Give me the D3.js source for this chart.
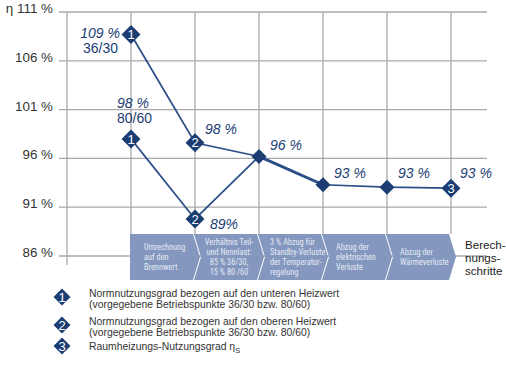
<!DOCTYPE html>
<html><head><meta charset="utf-8">
<script src="https://cdn.jsdelivr.net/npm/d3@7"></script>
<style>
html,body{margin:0;padding:0;background:#fff;}
svg{display:block;font-family:"Liberation Sans",Arial,sans-serif;}
</style></head>
<body><svg id="c" width="506" height="366"></svg>
<script>
// ---- data ----
const yTicks = [86, 91, 96, 101, 106, 111];
const yTickLabels = ["86 %", "91 %", "96 %", "101 %", "106 %", "η 111 %"];
const steps = [1, 2, 3, 4, 5, 6];
const seriesLower = [108.7, 97.6, 96.2, 93.3, 93.05, 92.95];   // unterer Heizwert → ηs
const seriesLowerMarks = ["1", "2", "", "", "", "3"];
const seriesUpperSteps = [1, 2, 3];
const seriesUpper = [98, 89.8, 96.2];                       // oberer Heizwert
const seriesUpperMarks = ["1", "2", ""];
const pointLabels = ["109 %", "98 %", "96 %", "93 %", "93 %", "93 %"];
const upperLabels = ["98 %", "89%"];
const opLabels = ["36/30", "80/60"];
const stepBoxes = [
  ["Umrechnung", "auf den", "Brennwert"],
  ["Verhältnis Teil-", "und Nennlast:", "85 % 36/30,", "15 % 80 /60"],
  ["3 % Abzug für", "Standby-Verluste", "der Temperatur-", "regelung"],
  ["Abzug der", "elektrischen", "Verluste"],
  ["Abzug der", "Wärmeverluste"]
];
const stepTitle = ["Berech-", "nungs-", "schritte"];
const legendItems = [
  {mark: "1", lines: ["Normnutzungsgrad bezogen auf den unteren Heizwert", "(vorgegebene Betriebspunkte 36/30 bzw. 80/60)"]},
  {mark: "2", lines: ["Normnutzungsgrad bezogen auf den oberen Heizwert", "(vorgegebene Betriebspunkte 36/30 bzw. 80/60)"]},
  {mark: "3", lines: ["Raumheizungs-Nutzungsgrad η"]}
];

// ---- styles ----
const navy = "#1b3d73", lineCol = "#2c4f87", grid = "#a9a9a9", boxCol = "#8397bf";
const svg = d3.select("#c");
const x = d3.scaleLinear().domain([0, 6]).range([67, 451]);
const y = d3.scaleLinear().domain([86, 111]).range([256, 12]);
const boxTop = 234, boxBot = 280;

// horizontal grid
svg.append("g").selectAll("line").data(yTicks).join("line")
  .attr("x1", 59).attr("x2", 487).attr("y1", d => y(d)).attr("y2", d => y(d))
  .attr("stroke", grid).attr("stroke-width", 1.3);
// vertical grid
svg.append("g").selectAll("line").data(steps).join("line")
  .attr("x1", d => x(d)).attr("x2", d => x(d)).attr("y1", y(111)).attr("y2", boxTop)
  .attr("stroke", grid).attr("stroke-width", 1.3);
svg.append("line").attr("x1", x(0)).attr("x2", x(0)).attr("y1", y(111)).attr("y2", 265)
  .attr("stroke", grid).attr("stroke-width", 1.3);

// y labels
svg.append("g").selectAll("text").data(yTicks).join("text")
  .attr("x", 53).attr("y", d => y(d) + 1).attr("text-anchor", "end")
  .attr("font-size", 13.4).attr("fill", "#333")
  .text((d, i) => yTickLabels[i]);

// step boxes (chevrons)
const dep = 7, mid = (boxTop + boxBot) / 2;
const bg = svg.append("g");
stepBoxes.forEach((lines, i) => {
  const x0 = x(i + 1) - 1, x1 = x(i + 2) - 2;
  const p = i === 0
    ? [[x0, boxTop], [x1, boxTop], [x1 + dep, mid], [x1, boxBot], [x0, boxBot]]
    : [[x0, boxTop], [x1, boxTop], [x1 + dep, mid], [x1, boxBot], [x0, boxBot], [x0 + dep, mid]];
  bg.append("path").attr("d", d3.line()(p) + "Z").attr("fill", boxCol);
  const n = lines.length, lh = 9.8;
  const startY = mid - (n - 1) * lh / 2 + 3;
  const centered = i === 1;
  const t = bg.append("text").attr("font-size", 8.3).attr("fill", "#e6eaf3")
    .attr("font-family", "'Liberation Sans Narrow','Roboto Condensed','Liberation Sans',sans-serif")
    .attr("text-anchor", centered ? "middle" : "start");
  lines.forEach((l, k) => t.append("tspan")
    .attr("x", centered ? (x(i + 1) + x(i + 2)) / 2 + 2 : x(i + 1) + (i === 2 ? 11 : 13))
    .attr("y", startY + k * lh).text(l));
});
const st = svg.append("text").attr("font-size", 11.6).attr("fill", "#222");
stepTitle.forEach((l, k) => st.append("tspan").attr("x", 465).attr("y", 249 + k * 13).text(l));

// lines
const line = d3.line().x(d => x(d[0])).y(d => y(d[1]));
svg.append("path").datum(steps.map((s, i) => [s, seriesLower[i]]))
  .attr("d", line).attr("fill", "none").attr("stroke", lineCol).attr("stroke-width", 1.7);
svg.append("path").datum(seriesUpperSteps.map((s, i) => [s, seriesUpper[i]]))
  .attr("d", line).attr("fill", "none").attr("stroke", lineCol).attr("stroke-width", 1.7);
svg.append("path").datum([[3, seriesLower[2]], [4, seriesLower[3]]])
  .attr("d", line).attr("fill", "none").attr("stroke", lineCol).attr("stroke-width", 3);

function diamond(g, cx, cy, r, label, fs) {
  g.append("path").attr("d", `M${cx},${cy - r}L${cx + r},${cy}L${cx},${cy + r}L${cx - r},${cy}Z`).attr("fill", navy);
  if (label) g.append("text").attr("x", cx).attr("y", cy + fs * 0.36).attr("text-anchor", "middle")
    .attr("font-size", fs).attr("fill", "#fff").text(label);
}
const mg = svg.append("g");
steps.forEach((s, i) => diamond(mg, x(s), y(seriesLower[i]), seriesLowerMarks[i] ? 9.5 : 7.5, seriesLowerMarks[i], 13));
seriesUpperSteps.forEach((s, i) => { if (seriesUpperMarks[i]) diamond(mg, x(s), y(seriesUpper[i]), 9.5, seriesUpperMarks[i], 13); });

// point labels
const lg = svg.append("g").attr("font-size", 14).attr("fill", navy);
const lowerOff = [[-11, 4, "end"], [10, -9, "start"], [11, -6, "start"], [11, -7, "start"], [11, -9, "start"], [9, -10, "start"]];
pointLabels.forEach((t, i) => lg.append("text").attr("font-style", "italic")
  .attr("x", x(steps[i]) + lowerOff[i][0]).attr("y", y(seriesLower[i]) + lowerOff[i][1])
  .attr("text-anchor", lowerOff[i][2]).text(t));
lg.append("text").attr("x", x(1) - 13).attr("y", y(seriesLower[0]) + 19).attr("text-anchor", "end").text(opLabels[0]);
const upOff = [[-14, -31], [15, 10]];
upperLabels.forEach((t, i) => lg.append("text").attr("font-style", "italic")
  .attr("x", x(seriesUpperSteps[i]) + upOff[i][0]).attr("y", y(seriesUpper[i]) + upOff[i][1]).text(t));
lg.append("text").attr("x", x(1) - 14).attr("y", y(seriesUpper[0]) - 16).text(opLabels[1]);

// legend
const leg = svg.append("g");
const legY = [297, 325, 346];
legendItems.forEach((it, i) => {
  diamond(leg, 62, legY[i], 8.5, it.mark, 13);
  const n = it.lines.length;
  const t = leg.append("text").attr("font-size", 10.4).attr("fill", "#333");
  it.lines.forEach((l, k) => t.append("tspan").attr("x", 89)
    .attr("y", legY[i] + (n === 1 ? 4 : 0) + k * 10.5).text(l));
  if (i === 2) t.append("tspan").attr("font-size", 7.5).attr("dy", 2.5).text("S");
});
</script></body></html>
